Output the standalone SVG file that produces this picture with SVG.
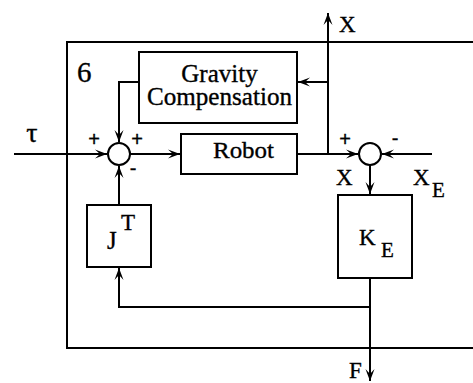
<svg xmlns="http://www.w3.org/2000/svg" width="473" height="383" viewBox="0 0 473 383">
<defs>
<marker id="ah" viewBox="-12 -5 13 10" refX="0" refY="0" markerWidth="13" markerHeight="10" markerUnits="userSpaceOnUse" orient="auto">
<path d="M0,0 L-12,-4.5 L-7,0 L-12,4.5 Z" fill="#000"/>
</marker>
<style>
.b{fill:#fff;stroke:#000;stroke-width:2}
.c{fill:none;stroke:#000;stroke-width:2}
text{fill:#000;stroke:#000;stroke-width:0.35}
</style>
</defs>
<rect width="473" height="383" fill="#fff"/>
<g font-family="Liberation Serif, Times New Roman, serif">
<g id="frame">
<path class="c" d="M473,42 H67 V348 H473"/>
<text x="77" y="82" font-size="29">6</text>
</g>
<g id="connectors" class="c" marker-end="url(#ah)">
<path d="M14,154 H107"/>
<path d="M130,154 H180"/>
<path d="M139,82 H119 V142"/>
<path d="M119,205 V166"/>
<path d="M370,307 H119 V268"/>
<path d="M297,154 H358"/>
<path d="M328,154 V13"/>
<path d="M328,82 H298"/>
<path d="M432,154 H382"/>
<path d="M370,165 V194"/>
<path d="M370,278 V381"/>
</g>
<g id="gravity">
<rect class="b" x="139" y="52" width="158" height="71"/>
<text x="219.5" y="82" font-size="25" text-anchor="middle">Gravity</text>
<text x="219.5" y="105" font-size="25" text-anchor="middle" textLength="145" lengthAdjust="spacingAndGlyphs">Compensation</text>
</g>
<g id="robot">
<rect class="b" x="181" y="134" width="116" height="40"/>
<text x="243.5" y="158" font-size="24" text-anchor="middle" textLength="61" lengthAdjust="spacingAndGlyphs">Robot</text>
</g>
<g id="sum1" font-family="Liberation Sans, Arial, sans-serif">
<circle class="b" cx="119" cy="154" r="11"/>
<text x="94" y="146" font-size="20" text-anchor="middle">+</text>
<text x="137" y="146" font-size="20" text-anchor="middle">+</text>
<text x="133" y="175" font-size="20" text-anchor="middle">-</text>
</g>
<g id="sum2" font-family="Liberation Sans, Arial, sans-serif">
<circle class="b" cx="370" cy="154" r="11"/>
<text x="345" y="146" font-size="20" text-anchor="middle">+</text>
<text x="395" y="145" font-size="20" text-anchor="middle">-</text>
</g>
<g id="jt">
<rect class="b" x="87" y="205" width="64" height="62"/>
<text x="107" y="249" font-size="25">J</text>
<text x="121" y="230" font-size="23">T</text>
</g>
<g id="ke">
<rect class="b" x="338" y="195" width="74" height="83"/>
<text x="359" y="245" font-size="23">K</text>
<text x="381" y="257" font-size="21">E</text>
</g>
<g id="labels">
<text x="32" y="142" font-size="28" text-anchor="middle">τ</text>
<text x="339" y="32" font-size="23">X</text>
<text x="336" y="185" font-size="23">X</text>
<text x="413" y="185" font-size="23">X</text>
<text x="432" y="197" font-size="21">E</text>
<text x="349" y="378" font-size="23">F</text>
</g>
</g>
</svg>
